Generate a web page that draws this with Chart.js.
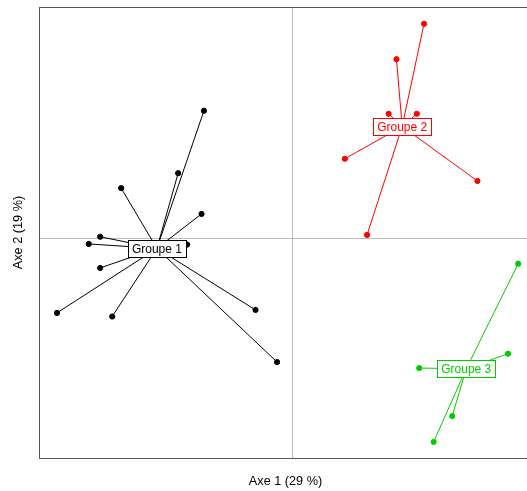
<!DOCTYPE html>
<html>
<head>
<meta charset="utf-8">
<script src="https://cdn.jsdelivr.net/npm/chart.js@4"></script>
<style>
  html, body { margin: 0; padding: 0; background: #fff; overflow: hidden; }
  #wrap { width: 540px; height: 491px; }
</style>
</head>
<body>
<div id="wrap"><canvas id="chart" width="540" height="491"></canvas></div>
<script>
// group names and colours
var groupNames = ['Groupe 1', 'Groupe 2', 'Groupe 3'];
var groupColors = ['#000000', '#ff0000', '#00cd00'];

// coordinates on axe 1 / axe 2, one list per group
var g1x = [-1.47, -1.90, -2.85, -1.51, -3.20, -3.39, -1.75, -3.20, -3.92, -3.00, -0.61, -0.25];
var g1y = [ 2.12,  1.08,  0.83,  0.40,  0.02, -0.10, -0.11, -0.50, -1.25, -1.31, -1.20, -2.07];
var g2x = [2.20, 1.74, 1.61, 2.08, 0.88, 3.09, 1.25];
var g2y = [3.57, 2.98, 2.07, 2.07, 1.32, 0.95, 0.05];
var g3x = [3.77, 3.60, 2.12, 2.67, 2.36];
var g3y = [-0.43, -1.93, -2.17, -2.97, -3.40];

var axeXTitle = 'Axe 1 (29 %)';
var axeYTitle = 'Axe 2 (19 %)';
var xMin = -4.22, xMax = 4.0;
var yMin = -3.67, yMax = 3.85;

var groupsX = [g1x, g2x, g3x];
var groupsY = [g1y, g2y, g3y];

function mean(a){
    var s = 0;
    for (var i = 0; i < a.length; i++) s += a[i];
    return s / a.length;
}

var centers = [];
var datasets = [];
for (var g = 0; g < groupNames.length; g++)
{
    var cx = mean(groupsX[g]);
    var cy = mean(groupsY[g]);
    centers.push({x: cx, y: cy});
    var pts = [];
    var star = [];
    for (var i = 0; i < groupsX[g].length; i++)
    {
        pts.push({x: groupsX[g][i], y: groupsY[g][i]});
        // one segment per point, broken by null
        star.push({x: cx, y: cy});
        star.push({x: groupsX[g][i], y: groupsY[g][i]});
        star.push({x: cx, y: null});
    }
    datasets.push({
        type: 'line',
        data: star,
        borderColor: groupColors[g],
        borderWidth: 1,
        pointRadius: 0,
        fill: false,
        tension: 0,
        spanGaps: false,
        order: 10
    });
    datasets.push({
        type: 'scatter',
        data: pts,
        backgroundColor: groupColors[g],
        borderColor: groupColors[g],
        pointRadius: 2.6,
        pointHoverRadius: 2.6,
        order: 5
    });
}

var framePlugin = {
    id: 'frame',
    beforeDatasetsDraw: function(chart){
        var ctx = chart.ctx;
        var a = chart.chartArea;
        var xs = chart.scales.x, ys = chart.scales.y;
        ctx.save();
        ctx.strokeStyle = '#bdbdbd';
        ctx.lineWidth = 1;
        var x0 = Math.round(xs.getPixelForValue(0)) + 0.5;
        var y0 = Math.round(ys.getPixelForValue(0)) + 0.5;
        ctx.beginPath();
        ctx.moveTo(x0, a.top); ctx.lineTo(x0, a.bottom);
        ctx.moveTo(a.left, y0); ctx.lineTo(a.right, y0);
        ctx.stroke();
        ctx.strokeStyle = '#555555';
        ctx.strokeRect(Math.round(a.left) + 0.5, Math.round(a.top) + 0.5,
                       Math.round(a.right - a.left), Math.round(a.bottom - a.top));
        ctx.restore();
    },
    afterDatasetsDraw: function(chart){
        var ctx = chart.ctx;
        var xs = chart.scales.x, ys = chart.scales.y;
        ctx.save();
        ctx.font = '12px "Liberation Sans", Arial, sans-serif';
        ctx.textAlign = 'center';
        ctx.textBaseline = 'middle';
        for (var g = 0; g < centers.length; g++)
        {
            var px = xs.getPixelForValue(centers[g].x);
            var py = ys.getPixelForValue(centers[g].y);
            var w = Math.round(ctx.measureText(groupNames[g]).width + 8);
            var h = 17;
            var bx = Math.round(px - w / 2) + 0.5;
            var by = Math.round(py - h / 2) + 0.5;
            ctx.fillStyle = '#ffffff';
            ctx.fillRect(bx, by, w, h);
            ctx.strokeStyle = groupColors[g];
            ctx.lineWidth = 1;
            ctx.strokeRect(bx, by, w, h);
            ctx.fillStyle = groupColors[g];
            ctx.fillText(groupNames[g], px, py + 1);
        }
        ctx.restore();
    }
};

var ctx = document.getElementById('chart').getContext('2d');
var chart = new Chart(ctx, {
    data: { datasets: datasets },
    options: {
        responsive: false,
        animation: false,
        layout: { padding: { top: 7, right: 8 } },
        plugins: {
            legend: { display: false },
            tooltip: { enabled: false }
        },
        scales: {
            x: {
                type: 'linear',
                min: xMin, max: xMax,
                ticks: { display: false },
                grid: { display: false },
                border: { display: false },
                title: {
                    display: true,
                    text: axeXTitle,
                    color: '#000',
                    font: { family: '"Liberation Sans", Arial, sans-serif', size: 12.7 },
                    padding: { top: 7.4, bottom: 2.3 }
                }
            },
            y: {
                type: 'linear',
                min: yMin, max: yMax,
                ticks: { display: false },
                grid: { display: false },
                border: { display: false },
                title: {
                    display: true,
                    text: axeYTitle,
                    color: '#000',
                    font: { family: '"Liberation Sans", Arial, sans-serif', size: 12.7 },
                    padding: { top: 10.8, bottom: 4.96 }
                }
            }
        }
    },
    plugins: [framePlugin]
});
</script>
</body>
</html>
